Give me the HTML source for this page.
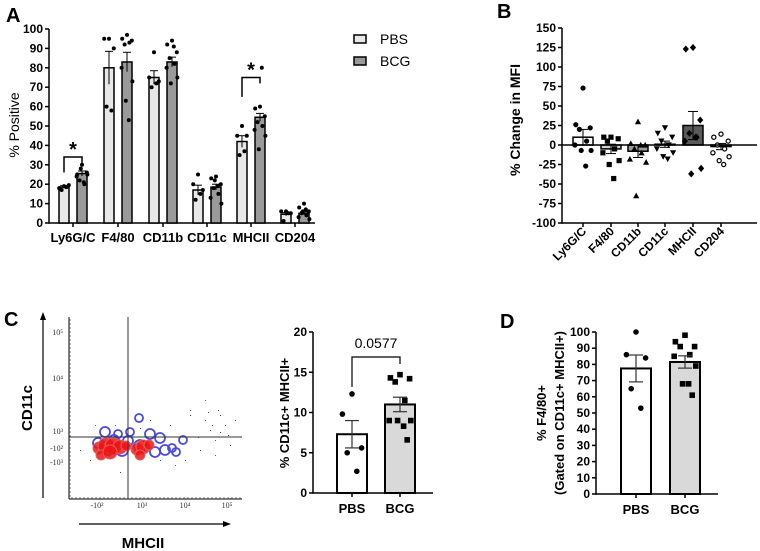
<!DOCTYPE html>
<html><head><meta charset="utf-8">
<style>
html,body{margin:0;padding:0;background:#fff;}
svg{display:block;font-family:"Liberation Sans",Arial,sans-serif;}
.tk{font-size:12px;font-weight:bold;}
.cat{font-size:13px;font-weight:bold;}
.ax{stroke:#000;stroke-width:1.5;fill:none;}
.fl{font-family:"Liberation Serif",serif;font-size:8px;fill:#333;}
</style></head>
<body>
<svg id="fig" width="760" height="551" viewBox="0 0 760 551" xmlns="http://www.w3.org/2000/svg">
<text x="6" y="22" font-size="20" font-weight="bold">A</text>
<text x="497" y="18" font-size="20" font-weight="bold">B</text>
<text x="4" y="326" font-size="20" font-weight="bold">C</text>
<text x="500" y="328" font-size="20" font-weight="bold">D</text>
<g id="gA"></g>
<g id="gB"></g>
<g id="gF"></g>
<g id="gC"></g>
<g id="gD"></g>
</svg>
<script>
// ---------- Panel A data ----------
const catsA = ["Ly6G/C","F4/80","CD11b","CD11c","MHCII","CD204"];
const pbsA = [18.5,80,75,17,42,4.5];
const bcgA = [25.5,83,83,18.5,54.5,5];
const pbsSemA = [0.7,8.5,3.5,2.5,3,0.8];
const bcgSemA = [1.3,5,2.5,1.5,2,0.8];
const pbsPtsA = [[19,18,19.5,17,18.5],[95,95,90,60,58],[88,75,73,70,72],[25,20,17,12,15],[50,45,45,35,37],[6,6,5,1,5]];
const bcgPtsA = [[30,25,26,22,20,24,25,28,21],[97,95,94,92,93,80,73,63,53],[94,92,88,85,82,80,75,72,91],[24,23,20,18,15,13,10,22,19],[60,59,55,52,50,48,45,38,80],[10,8,6,5,4,3,2,6,7]];
const ticksA = [0,10,20,30,40,50,60,70,80,90,100];
// ---------- Panel B data ----------
const catsB = ["Ly6G/C","F4/80","CD11b","CD11c","MHCII","CD204"];
const valsB = [10,-5,-8,1,25,-2];
const semB = [10,6,8,4,18,4];
const ptsB = [[73,26,22,20,5,0,-7,-7,-27],[10,10,8,5,-5,-10,-20,-25,-43],[30,2,0,-5,-10,-18,-22,-65,0],[22,15,10,5,0,-5,-10,-15,-18],[125,123,32,15,10,5,-30,-37,10],[14,10,5,0,-5,-10,-15,-20,-25]];
const ticksB = [-100,-75,-50,-25,0,25,50,75,100,125,150];
// ---------- Panel C data ----------
const catsC = ["PBS","BCG"];
const valsC = [7.3,11];
const semC = [1.7,0.9];
const ptsC = [[12.3,9.8,5.6,5,2.7],[14.7,14.3,14.2,13.8,11.5,9,9,9,8.3,6.6]];
const ticksC = [0,5,10,15,20];
// ---------- Panel D data ----------
const catsD = ["PBS","BCG"];
const valsD = [77.5,81.5];
const semD = [8.3,3.8];
const ptsD = [[100,86,84,65,53],[98,94,91,91,86,85,79,68,68,61]];
const ticksD = [0,10,20,30,40,50,60,70,80,90,100];

const JIT=[0,-0.8,0.8,-0.4,0.4,-0.9,0.9,-0.2,0.3,0.6];
const NS="http://www.w3.org/2000/svg";
function mk(parent,tag,attrs,text){const e=document.createElementNS(NS,tag);for(const k in attrs)e.setAttribute(k,attrs[k]);if(text!==undefined)e.textContent=text;parent.appendChild(e);return e;}
function marker(g,shape,x,y,r){
  let e;
  if(shape==="circle") e=mk(g,"circle",{cx:x,cy:y,r:r,fill:"#000"});
  else if(shape==="open") e=mk(g,"circle",{cx:x,cy:y,r:r-0.5,fill:"#fff",stroke:"#000","stroke-width":1.2});
  else if(shape==="square") e=mk(g,"rect",{x:x-r,y:y-r,width:2*r,height:2*r,fill:"#000"});
  else if(shape==="tri") e=mk(g,"polygon",{points:`${x},${y-r-0.5} ${x-r-0.5},${y+r} ${x+r+0.5},${y+r}`,fill:"#000"});
  else if(shape==="itri") e=mk(g,"polygon",{points:`${x},${y+r+0.5} ${x-r-0.5},${y-r} ${x+r+0.5},${y-r}`,fill:"#000"});
  else e=mk(g,"polygon",{points:`${x},${y-r-1} ${x+r+0.5},${y} ${x},${y+r+1} ${x-r-0.5},${y}`,fill:"#000"});
  return e;
}
function jit(j,w){return JIT[j%JIT.length]*w/2;}
function yAxis(g,x,y0,y1,ticks,ys){
  mk(g,"line",{x1:x,y1:ys(ticks[0])+0.75,x2:x,y2:ys(ticks[ticks.length-1]),class:"ax"});
  ticks.forEach(t=>{
    mk(g,"line",{x1:x-4,y1:ys(t),x2:x,y2:ys(t),class:"ax"});
    const tl=mk(g,"text",{x:x-6,y:ys(t)+4,"text-anchor":"end",class:"tk"},String(t));
    
    
  });
}

// ---------- Panel A ----------
(function(){
  const g=document.getElementById("gA");
  const yA=v=>223-v*1.94;
  const cx=[73,118,163,207,251,295];
  yAxis(g,49,0,0,ticksA,yA);
  mk(g,"line",{x1:49,y1:223,x2:315,y2:223,class:"ax"});
  catsA.forEach((c,i)=>{
    mk(g,"line",{x1:cx[i],y1:223,x2:cx[i],y2:227,class:"ax"});
    const t=mk(g,"text",{x:cx[i],y:242,"text-anchor":"middle",class:"cat"},c);
    
    
    [[pbsA,pbsSemA,pbsPtsA,-9,"#e8e8e8"],[bcgA,bcgSemA,bcgPtsA,9,"#9a9a9a"]].forEach(([v,s,p,off,col],k)=>{
      const x=cx[i]+off;
      const b=mk(g,"rect",{x:x-5,y:yA(v[i]),width:10,height:yA(0)-yA(v[i]),fill:col,stroke:"#000","stroke-width":1.5});
      
      
      mk(g,"line",{x1:x,y1:yA(v[i]-s[i]),x2:x,y2:yA(v[i]+s[i]),stroke:"#000","stroke-width":1});
      mk(g,"line",{x1:x-4,y1:yA(v[i]+s[i]),x2:x+4,y2:yA(v[i]+s[i]),stroke:"#000","stroke-width":1});
      p[i].forEach((pv,j)=>{const m=marker(g,"circle",x+jit(j,12),yA(pv),2);
        
        });
    });
  });
  [[0,34,26,31],[4,75,65,72]].forEach(([i,top,l,r])=>{
    const x1=cx[i]-9,x2=cx[i]+9;
    const br=mk(g,"path",{d:`M${x1},${yA(l)} V${yA(top)} H${x2} V${yA(r)}`,fill:"none",stroke:"#000","stroke-width":1.5});
    
    
    const st=mk(g,"text",{x:cx[i],y:yA(top)-1,"text-anchor":"middle","font-size":"20","font-weight":"bold"},"*");
    
    
  });
  const yl=mk(g,"text",{x:0,y:0,transform:"translate(19,125) rotate(-90)","text-anchor":"middle","font-size":"14"},"% Positive");
  
  
  [["PBS","#e8e8e8",39],["BCG","#9a9a9a",61]].forEach(([n,c,y])=>{
    const lb=mk(g,"rect",{x:354,y:y-4,width:12,height:8,fill:c,stroke:"#000","stroke-width":1.5});
    
    
    const lt=mk(g,"text",{x:380,y:y+5,"font-size":"14"},n);
    
    
  });
})();

// ---------- Panel B ----------
(function(){
  const g=document.getElementById("gB");
  const yB=v=>145-v*0.78;
  const cx=[583,611,638,665,693,721];
  const fills=["#fff","#d0d0d0","#9a9a9a","#fff","#5a5a5a","#fff"];
  const shapes=["circle","square","tri","itri","diamond","open"];
  yAxis(g,562,0,0,ticksB,yB);
  catsB.forEach((c,i)=>{
    const b=mk(g,"rect",{x:cx[i]-10,y:Math.min(yB(valsB[i]),yB(0)),width:20,height:Math.abs(yB(valsB[i])-yB(0)),fill:fills[i],stroke:"#000","stroke-width":1.5});
    
    
    const s=semB[i],v=valsB[i];
    mk(g,"line",{x1:cx[i],y1:yB(v-s),x2:cx[i],y2:yB(v+s),stroke:"#000","stroke-width":1});
    mk(g,"line",{x1:cx[i]-5,y1:yB(v+s),x2:cx[i]+5,y2:yB(v+s),stroke:"#000","stroke-width":1});
    mk(g,"line",{x1:cx[i]-5,y1:yB(v-s),x2:cx[i]+5,y2:yB(v-s),stroke:"#000","stroke-width":1});
    ptsB[i].forEach((pv,j)=>{const m=marker(g,shapes[i],cx[i]+jit(j,18),yB(pv),2.6);
      
      });
    mk(g,"line",{x1:cx[i],y1:223,x2:cx[i],y2:227,class:"ax"});
    const t=mk(g,"text",{x:0,y:0,transform:`translate(${cx[i]+4},232) rotate(-45)`,"text-anchor":"end",class:"tk"},c);
    
    
  });
  mk(g,"line",{x1:562,y1:223,x2:757,y2:223,class:"ax"});
  mk(g,"line",{x1:562,y1:yB(0),x2:757,y2:yB(0),class:"ax"});
  const yl=mk(g,"text",{x:0,y:0,transform:"translate(520,120) rotate(-90)","text-anchor":"middle","font-size":"14","font-weight":"bold"},"%  Change in MFI");
  
  
})();

// ---------- Flow plot ----------
const blueRings=[[139,418,4],[105,432,5],[118,434,4],[130,432,4],[150,434,5],[160,438,5],[172,448,4],[176,452,4],[183,440,4],[108,448,7],[155,452,5],[165,450,5],[122,450,6],[140,446,6],[98,443,5],[128,441,5],[114,440,5]];
const redBlobs=[[99,448,6],[106,446,8],[113,446,8],[120,447,7],[126,446,5],[137,449,6],[143,447,7],[149,445,5],[101,455,5],[140,455,5],[110,452,7]];
const dots=[[95,425],[150,420],[170,425],[190,410],[205,420],[210,430],[215,440],[220,415],[200,450],[185,460],[230,445],[225,425],[235,420],[160,460],[80,450],[90,460],[205,400],[215,455],[175,465],[120,472],[190,415],[198,437],[228,435],[140,428],[115,425],[212,425],[220,432],[218,410],[208,412]];
(function(){
  const g=document.getElementById("gF");
  mk(g,"line",{x1:69,y1:317,x2:69,y2:499,stroke:"#000","stroke-width":1});
  mk(g,"line",{x1:69,y1:499,x2:242,y2:499,stroke:"#000","stroke-width":1});
  for(let y=320;y<499;y+=4) mk(g,"line",{x1:69,y1:y,x2:71,y2:y,stroke:"#000","stroke-width":0.5});
  for(let x=72;x<242;x+=4) mk(g,"line",{x1:x,y1:497,x2:x,y2:499,stroke:"#000","stroke-width":0.5});
  dots.forEach(([x,y])=>mk(g,"rect",{x:x,y:y,width:1,height:1,fill:(x%2?"#c0392b":"#3a3ad0")}));
  blueRings.forEach(([x,y,r])=>{const c=mk(g,"circle",{cx:x,cy:y,r:r,fill:"none",stroke:"#4a4ae0","stroke-width":1.8});
    
    });
  redBlobs.forEach(([x,y,r])=>{const c=mk(g,"circle",{cx:x,cy:y,r:r,fill:"rgba(240,20,20,0.85)",stroke:"#e06060","stroke-width":1});
    
    });
  mk(g,"line",{x1:128,y1:317,x2:128,y2:499,stroke:"#333","stroke-width":1});
  mk(g,"line",{x1:69,y1:437,x2:242,y2:437,stroke:"#333","stroke-width":1});
  [["10⁵",335],["10⁴",381],["10³",434],["-10²",451],["-10³",465]].forEach(([t,y])=>mk(g,"text",{x:63,y:y,"text-anchor":"end",class:"fl"},t));
  [["-10²",97],["10³",142],["10⁴",185],["10⁵",227]].forEach(([t,x])=>mk(g,"text",{x:x,y:508,"text-anchor":"middle",class:"fl"},t));
  mk(g,"line",{x1:43,y1:498,x2:43,y2:318,stroke:"#000","stroke-width":1.2});
  mk(g,"polygon",{points:"43,312 40,320 46,320",fill:"#000"});
  mk(g,"line",{x1:79,y1:524,x2:225,y2:524,stroke:"#000","stroke-width":1.2});
  mk(g,"polygon",{points:"231,524 223,521 223,527",fill:"#000"});
  const yl=mk(g,"text",{x:0,y:0,transform:"translate(32,408) rotate(-90)","text-anchor":"middle","font-size":"15","font-weight":"bold"},"CD11c");
  
  
  const xl=mk(g,"text",{x:143,y:548,"text-anchor":"middle","font-size":"15","font-weight":"bold"},"MHCII");
  
  
})();

// ---------- small two-bar panels ----------
function twoBar(id,cats,vals,sem,pts,ticks,ax,ytop,ybot,xr,cx,bw,shapes,fills){
  const g=document.getElementById(id);
  const tmax=ticks[ticks.length-1];
  const ys=v=>ybot-(v/tmax)*(ybot-ytop);
  yAxis(g,ax,0,0,ticks,ys);
  mk(g,"line",{x1:ax,y1:ybot,x2:xr,y2:ybot,class:"ax"});
  cats.forEach((c,i)=>{
    const b=mk(g,"rect",{x:cx[i]-bw/2,y:ys(vals[i]),width:bw,height:ybot-ys(vals[i]),fill:fills[i],stroke:"#000","stroke-width":2});
    
    
    pts[i].forEach((pv,j)=>{const m=marker(g,shapes[i],cx[i]+jit(j,24),ys(pv),2.8);
      
      });
    const v=vals[i],s=sem[i];
    mk(g,"line",{x1:cx[i],y1:ys(v-s),x2:cx[i],y2:ys(v+s),stroke:"#333","stroke-width":1.2});
    mk(g,"line",{x1:cx[i]-7,y1:ys(v+s),x2:cx[i]+7,y2:ys(v+s),stroke:"#333","stroke-width":1.2});
    mk(g,"line",{x1:cx[i]-7,y1:ys(v-s),x2:cx[i]+7,y2:ys(v-s),stroke:"#333","stroke-width":1.2});
    mk(g,"line",{x1:cx[i],y1:ybot,x2:cx[i],y2:ybot+4,class:"ax"});
    const t=mk(g,"text",{x:cx[i],y:ybot+20,"text-anchor":"middle",class:"cat"},c);
    
    
  });
  return {g,ys};
}
(function(){
  const r=twoBar("gC",catsC,valsC,semC,ptsC,ticksC,313,332,493,433,[352,400],30,["circle","square"],["#fff","#d9d9d9"]);
  const br=mk(r.g,"path",{d:"M352,387 V357 H400 V364",fill:"none",stroke:"#000","stroke-width":1.2});
  
  
  const pt=mk(r.g,"text",{x:376,y:348,"text-anchor":"middle","font-size":"14"},"0.0577");
  
  
  const yl=mk(r.g,"text",{x:0,y:0,transform:"translate(289,413) rotate(-90)","text-anchor":"middle","font-size":"13","font-weight":"bold"},"% CD11c+ MHCII+");
  
  
})();
(function(){
  const r=twoBar("gD",catsD,valsD,semD,ptsD,ticksD,596,332,494,718,[636,685],30,["circle","square"],["#fff","#d9d9d9"]);
  const y1=mk(r.g,"text",{x:0,y:0,transform:"translate(546,413) rotate(-90)","text-anchor":"middle","font-size":"13","font-weight":"bold"},"% F4/80+");
  
  
  const y2=mk(r.g,"text",{x:0,y:0,transform:"translate(564,413) rotate(-90)","text-anchor":"middle","font-size":"13","font-weight":"bold"},"(Gated on CD11c+ MHCII+)");
  
  
})();
</script>
</body></html>
